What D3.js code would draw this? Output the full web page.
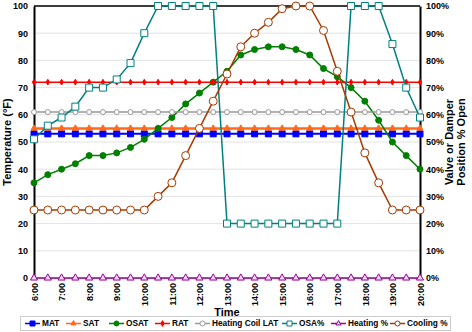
<!DOCTYPE html>
<html><head><meta charset="utf-8">
<script src="https://cdn.jsdelivr.net/npm/d3@7"></script>
<style>body{margin:0;background:#fff}svg{display:block;font-family:"Liberation Sans",Arial,sans-serif}</style>
</head><body><svg id="c" width="472" height="332"></svg>
<script>
const times = ["6:00","6:30","7:00","7:30","8:00","8:30","9:00","9:30","10:00","10:30","11:00","11:30","12:00","12:30","13:00","13:30","14:00","14:30","15:00","15:30","16:00","16:30","17:00","17:30","18:00","18:30","19:00","19:30","20:00"];
const hourLabels = ["6:00","7:00","8:00","9:00","10:00","11:00","12:00","13:00","14:00","15:00","16:00","17:00","18:00","19:00","20:00"];
const MAT = times.map(()=>53);
const SAT = times.map(()=>55);
const RAT = times.map(()=>72);
const LAT = times.map(()=>61);
const OSAT = [35,38,40,42,45,45,46,48,51,55,59,64,68,72,76,82,84,85,85,84,82,77,74,70,65,58,50,45,40];
const OSA = [51,56,59,63,70,70,73,79,90,100,100,100,100,100,20,20,20,20,20,20,20,20,20,100,100,100,86,70,59];
const HEAT = times.map(()=>0);
const COOL = [25,25,25,25,25,25,25,25,25,30,35,45,55,65,75,85,90,94,99,100,100,91,76,61,46,35,25,25,25];
const leftTicks = [0,10,20,30,40,50,60,70,80,90,100];
const rightTicks = ["0%","10%","20%","30%","40%","50%","60%","70%","80%","90%","100%"];

const series = [
 {name:"MAT", data:MAT, color:"#0000ff", w:2, marker:"square", size:6, fill:"#0000ff"},
 {name:"SAT", data:SAT, color:"#ff6a1a", w:2.5, marker:"triangle", size:6, fill:"#ff6a1a"},
 {name:"OSAT", data:OSAT, color:"#008000", w:1.5, marker:"circle", size:6, fill:"#008000"},
 {name:"RAT", data:RAT, color:"#ff0000", w:1.5, marker:"diamond", size:4, fill:"#ff0000"},
 {name:"Heating Coil LAT", data:LAT, color:"#999999", w:1.5, marker:"circle", size:5, fill:"#fff"},
 {name:"OSA%", data:OSA, color:"#008080", w:1.5, marker:"square", size:7, fill:"#fff"},
 {name:"Heating %", data:HEAT, color:"#990099", w:1.5, marker:"triangle", size:7, fill:"#f0d8f0"},
 {name:"Cooling %", data:COOL, color:"#a63a00", w:1.5, marker:"circle", size:8, fill:"#fff"}
];

const svg = d3.select("#c");
const L=34, R=420, T=6, B=278;
const x = d3.scalePoint().domain(times).range([L,R]);
const y = d3.scaleLinear().domain([0,100]).range([B,T]);

svg.append("g").selectAll("line").data(leftTicks.slice(1)).join("line")
 .attr("x1",L).attr("x2",R).attr("y1",d=>y(d)).attr("y2",d=>y(d))
 .attr("stroke","#e3e3e3").attr("stroke-width",1);

const fontB = g=>g.selectAll("text").attr("font-weight","bold").attr("font-size","9px").attr("fill","#000").attr("font-family","Liberation Sans, Arial, sans-serif");
svg.append("g").attr("transform",`translate(${L},0)`)
 .call(d3.axisLeft(y).tickValues(leftTicks).tickSize(0).tickPadding(6))
 .call(g=>g.select(".domain").attr("stroke","#000").attr("stroke-width",2))
 .call(fontB);
const yr = d3.scaleLinear().domain([0,100]).range([B,T]);
svg.append("g").attr("transform",`translate(${R},0)`)
 .call(d3.axisRight(yr).tickValues(leftTicks).tickFormat((d,i)=>rightTicks[i]).tickSize(0).tickPadding(6))
 .call(g=>g.select(".domain").attr("stroke","#000").attr("stroke-width",2))
 .call(fontB);
svg.append("line").attr("x1",L).attr("x2",R).attr("y1",T).attr("y2",T).attr("stroke","#000").attr("stroke-width",1.5);
const xa = svg.append("g").attr("transform",`translate(0,${B})`)
 .call(d3.axisBottom(x).tickValues(hourLabels).tickSize(0).tickPadding(0))
 .call(g=>g.select(".domain").attr("stroke","#bbb"))
 .call(fontB);
xa.selectAll("text").attr("transform","rotate(-90)").attr("text-anchor","end")
 .attr("x",-5).attr("y",0).attr("dy","0.35em");

const line = d3.line().x((d,i)=>x(times[i])).y(d=>y(d));
function markerPath(type,s){
 const sym = {square:d3.symbolSquare,triangle:d3.symbolTriangle,circle:d3.symbolCircle,diamond:d3.symbolDiamond}[type];
 let area = type==="circle"? Math.PI*(s/2)*(s/2) : type==="triangle"? s*s*0.45 : type==="diamond"? s*s*0.6 : s*s;
 return d3.symbol().type(sym).size(area)();
}
series.forEach(s=>{
 const g = svg.append("g");
 g.append("path").datum(s.data).attr("d",line).attr("fill","none").attr("stroke",s.color).attr("stroke-width",s.w);
 g.selectAll("path.m").data(s.data).join("path").attr("class","m")
  .attr("d",markerPath(s.marker,s.size))
  .attr("transform",(d,i)=>`translate(${x(times[i])},${y(d)})`)
  .attr("fill",s.fill).attr("stroke",s.color).attr("stroke-width",1);
});

svg.append("text").attr("transform",`translate(11,142) rotate(-90)`).attr("text-anchor","middle")
 .attr("font-size","11px").attr("font-weight","bold").text("Temperature (°F)");
svg.append("text").attr("transform",`translate(453,142) rotate(-90)`).attr("text-anchor","middle")
 .attr("font-size","11px").attr("font-weight","bold").text("Valve or Damper");
svg.append("text").attr("transform",`translate(465,142) rotate(-90)`).attr("text-anchor","middle")
 .attr("font-size","11px").attr("font-weight","bold").text("Position % Open");
svg.append("text").attr("x",227).attr("y",316).attr("text-anchor","middle")
 .attr("font-size","11px").attr("font-weight","bold").text("Time");

svg.append("rect").attr("x",20.5).attr("y",316.5).attr("width",430).attr("height",14).attr("fill","#fff").attr("stroke","#ccc");
const legX = [25,66,109,155,195,282,331,390];
series.forEach((s,i)=>{
 const g = svg.append("g").attr("transform",`translate(${legX[i]},323.5)`);
 g.append("line").attr("x1",0).attr("x2",15).attr("stroke",s.color).attr("stroke-width",1.5);
 g.append("path").attr("d",markerPath(s.marker,Math.min(s.size,5))).attr("transform","translate(7.5,0)")
  .attr("fill",s.fill).attr("stroke",s.color);
 g.append("text").attr("x",17).attr("y",0).attr("dy","0.35em").attr("font-size","8.3px").attr("font-weight","bold").text(s.name);
});
</script></body></html>
